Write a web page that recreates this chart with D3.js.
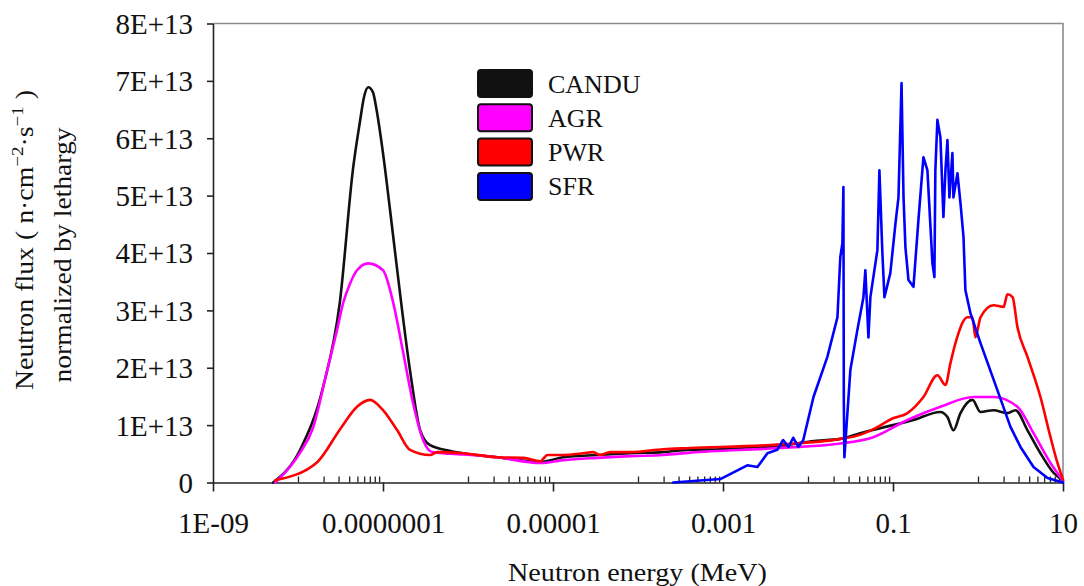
<!DOCTYPE html>
<html>
<head>
<meta charset="utf-8">
<script src="https://cdn.jsdelivr.net/npm/d3@7/dist/d3.min.js"></script>
<style>
  body { margin: 0; background: #fff; }
  text { font-family: "Liberation Serif", "Times New Roman", serif; fill: #111; }
</style>
</head>
<body>
<div id="vis"></div>
<script>
// series names and their line colours
var seriesNames = ["CANDU", "AGR", "PWR", "SFR"];
var seriesColors = ["#111111", "#ff00ff", "#ff0000", "#0000ff"];

// tick labels
var yTickLabels = ["0", "1E+13", "2E+13", "3E+13", "4E+13", "5E+13", "6E+13", "7E+13", "8E+13"];
var xTickValues = [1e-9, 1e-7, 1e-5, 1e-3, 1e-1, 10];
var xTickLabels = ["1E-09", "0.0000001", "0.00001", "0.001", "0.1", "10"];

// [energy MeV, flux in units of 1E+13]
var candu = [
  [5.1e-9, 0], [1.06e-8, 0.57], [1.97e-8, 1.66], [3.1e-8, 3.13], [4.45e-8, 5.48],
  [5.37e-8, 6.3], [5.98e-8, 6.72], [6.7e-8, 6.89], [7.63e-8, 6.80], [8.3e-8, 6.54],
  [1.0e-7, 5.74], [1.21e-7, 4.75], [1.47e-7, 3.70], [2.08e-7, 1.95], [2.74e-7, 0.91],
  [3.58e-7, 0.65], [6.2e-7, 0.55], [8.8e-7, 0.51], [2.2e-6, 0.44], [7.1e-6, 0.36],
  [1.32e-5, 0.44], [3.3e-5, 0.48], [8.1e-5, 0.51], [1.98e-4, 0.53], [4.1e-4, 0.57],
  [9.3e-4, 0.58], [4.35e-3, 0.63], [1.1e-2, 0.72], [2.4e-2, 0.76], [4.1e-2, 0.86],
  [0.1, 1.0], [0.174, 1.09], [0.361, 1.23], [0.437, 1.14], [0.514, 0.91],
  [0.622, 1.21], [0.861, 1.44], [1.07, 1.23], [1.52, 1.26], [2.22, 1.21],
  [2.76, 1.26], [3.82, 0.91], [5.43, 0.51], [7.73, 0.17], [10, 0.03]
];

var agr = [
  [5.4e-9, 0], [1.06e-8, 0.52], [1.5e-8, 0.95], [2.2e-8, 1.95], [2.88e-8, 2.66],
  [3.4e-8, 3.13], [4.1e-8, 3.47], [4.95e-8, 3.70], [6.7e-8, 3.82], [1.0e-7, 3.70],
  [1.32e-7, 3.13], [1.73e-7, 2.26], [2.26e-7, 1.38], [2.96e-7, 0.74], [3.78e-7, 0.53],
  [6.2e-7, 0.50], [8.8e-7, 0.49], [2.2e-6, 0.44], [7.1e-6, 0.34], [1.32e-5, 0.39],
  [3.3e-5, 0.43], [8.1e-5, 0.46], [1.98e-4, 0.48], [4.1e-4, 0.52], [4.35e-3, 0.60],
  [2.4e-2, 0.68], [5.87e-2, 0.79], [0.148, 1.09], [0.361, 1.32], [0.883, 1.49],
  [1.52, 1.49], [2.91, 1.32], [4.5, 0.86], [7.13, 0.34], [10, 0.03]
];

var pwr = [
  [5.4e-9, 0.04], [1.67e-8, 0.35], [3.1e-8, 0.92], [4.95e-8, 1.32], [7.05e-8, 1.44],
  [1.0e-7, 1.26], [1.47e-7, 0.91], [2.08e-7, 0.57], [3.58e-7, 0.48], [4.34e-7, 0.53],
  [8.8e-7, 0.51], [2.2e-6, 0.44], [4.5e-6, 0.43], [7.1e-6, 0.37], [8.6e-6, 0.48],
  [1.32e-5, 0.48], [2.27e-5, 0.51], [2.97e-5, 0.53], [3.6e-5, 0.48], [4.7e-5, 0.53],
  [8.1e-5, 0.53], [1.98e-4, 0.58], [4.1e-4, 0.60], [4.35e-3, 0.66], [2.4e-2, 0.76],
  [4.1e-2, 0.83], [5.87e-2, 0.93], [0.1, 1.12], [0.148, 1.21], [0.228, 1.49],
  [0.333, 1.87], [0.414, 1.70], [0.474, 2.08], [0.543, 2.43], [0.752, 2.88],
  [0.861, 2.88], [0.933, 2.53], [1.07, 2.88], [1.52, 3.09], [2.0, 3.06],
  [2.22, 3.28], [2.55, 3.23], [2.91, 2.71], [3.82, 2.19], [5.43, 1.49],
  [7.13, 0.79], [8.61, 0.34], [10, 0.05]
];

var sfr = [
  [2.6e-4, 0], [9.3e-4, 0.06], [1.93e-3, 0.30], [2.54e-3, 0.27], [3.33e-3, 0.51],
  [4.35e-3, 0.57], [5.1e-3, 0.74], [5.9e-3, 0.62], [6.7e-3, 0.78], [7.7e-3, 0.62],
  [8.8e-3, 0.74], [1.16e-2, 1.49], [1.69e-2, 2.19], [2.22e-2, 2.88], [2.4e-2, 3.93],
  [2.54e-2, 4.17], [2.61e-2, 5.15], [2.64e-2, 1.39], [2.68e-2, 0.44], [3.15e-2, 1.96],
  [3.81e-2, 2.66], [4.49e-2, 3.23], [4.73e-2, 3.70], [5.14e-2, 2.53], [5.42e-2, 3.23],
  [6.55e-2, 4.05], [6.92e-2, 5.44], [7.5e-2, 4.00], [7.93e-2, 3.23], [9.3e-2, 3.65],
  [0.107, 4.52], [0.116, 4.97], [0.126, 6.96], [0.133, 4.97], [0.14, 4.10],
  [0.152, 3.53], [0.174, 3.41], [0.199, 4.57], [0.228, 5.67], [0.254, 5.44],
  [0.291, 3.82], [0.307, 3.58], [0.315, 5.44], [0.333, 6.32], [0.361, 6.02],
  [0.392, 4.63], [0.414, 5.44], [0.437, 5.97], [0.461, 4.97], [0.5, 5.74],
  [0.514, 4.97], [0.573, 5.39], [0.622, 4.87], [0.675, 4.28], [0.711, 3.35],
  [0.815, 2.95], [1.07, 2.43], [1.69, 1.61], [2.41, 0.97], [3.16, 0.62],
  [4.5, 0.27], [6.58, 0.08], [10, 0]
];

var allSeries = [candu, agr, pwr, sfr];

var width = 1084, height = 586;
var margin = { top: 23.5, left: 213, bottom: 103.5, right: 21 };

var svg = d3.select("#vis").append("svg")
  .attr("width", width)
  .attr("height", height);

var x = d3.scaleLog().domain([1e-9, 10]).range([margin.left, width - margin.right]);
var y = d3.scaleLinear().domain([0, 8]).range([height - margin.bottom, margin.top]);

// grey frame on top and right
svg.append("path")
  .attr("d", "M" + x(1e-9) + "," + y(8) + "H" + x(10) + "V" + y(0))
  .attr("fill", "none")
  .attr("stroke", "#8c8c8c")
  .attr("stroke-width", 1.6);

// minor ticks (only every other decade, like the original)
var minorTicks = [];
[-8, -6, -4, -2, 0].forEach(function (k) {
  for (var m = 1; m <= 9; m++) minorTicks.push(m * Math.pow(10, k));
});

svg.append("g")
  .attr("transform", "translate(0," + y(0) + ")")
  .call(d3.axisTop(x).tickValues(minorTicks).tickSize(6).tickSizeOuter(0).tickFormat(""))
  .call(function (g) { g.select(".domain").remove(); })
  .selectAll("line").attr("stroke", "#222").attr("stroke-width", 1.3);

var xAxis = svg.append("g")
  .attr("transform", "translate(0," + y(0) + ")")
  .call(d3.axisBottom(x).tickValues(xTickValues)
    .tickFormat(function (d, i) { return xTickLabels[i]; })
    .tickSize(9).tickSizeOuter(0));
xAxis.select(".domain").attr("stroke", "#222").attr("stroke-width", 1.6);
xAxis.selectAll("line").attr("stroke", "#222").attr("stroke-width", 1.6);
xAxis.selectAll("text")
  .attr("y", 50).attr("dy", 0)
  .style("font-size", "29px")
  .style("font-family", "Liberation Serif")
  .attr("fill", "#111");

var yAxis = svg.append("g")
  .attr("transform", "translate(" + x(1e-9) + ",0)")
  .call(d3.axisLeft(y).tickValues(d3.range(0, 9))
    .tickFormat(function (d, i) { return yTickLabels[i]; })
    .tickSize(6).tickPadding(14).tickSizeOuter(0));
yAxis.select(".domain").attr("stroke", "#222").attr("stroke-width", 1.6);
yAxis.selectAll("line").attr("stroke", "#222").attr("stroke-width", 1.6);
yAxis.selectAll("text")
  .attr("dy", "0.34em")
  .style("font-size", "29px")
  .style("font-family", "Liberation Serif")
  .attr("fill", "#111");

// lines
var line = d3.line()
  .x(function (d) { return x(d[0]); })
  .y(function (d) { return y(d[1]); });

allSeries.forEach(function (s, i) {
  svg.append("path")
    .datum(s)
    .attr("fill", "none")
    .attr("stroke", seriesColors[i])
    .attr("stroke-width", 2.6)
    .attr("stroke-linejoin", "round")
    .attr("stroke-linecap", "round")
    .attr("d", line.curve(i === 3 ? d3.curveLinear : d3.curveMonotoneX));
});

// legend
var legend = svg.append("g").attr("transform", "translate(478,70)");
seriesNames.forEach(function (name, i) {
  var row = legend.append("g").attr("transform", "translate(0," + (i * 34.3) + ")");
  row.append("rect")
    .attr("width", 54).attr("height", 27).attr("rx", 3)
    .attr("fill", seriesColors[i])
    .attr("stroke", "#111").attr("stroke-width", 2);
  row.append("text")
    .attr("x", 70).attr("y", 22.5)
    .style("font-size", "26px")
    .text(name);
});

// axis titles
svg.append("text")
  .attr("x", 637.5).attr("y", 581)
  .attr("text-anchor", "middle")
  .attr("textLength", 259).attr("lengthAdjust", "spacingAndGlyphs")
  .style("font-size", "25px")
  .text("Neutron energy (MeV)");

var yt1 = svg.append("text")
  .attr("transform", "translate(33,240) rotate(-90)")
  .attr("text-anchor", "middle")
  .attr("textLength", 300).attr("lengthAdjust", "spacingAndGlyphs")
  .style("font-size", "25px");
yt1.append("tspan").text("Neutron flux ( n\u00b7cm");
yt1.append("tspan").attr("dy", -10).style("font-size", "17px").text("\u22122");
yt1.append("tspan").attr("dy", 10).text("\u00b7s");
yt1.append("tspan").attr("dy", -10).style("font-size", "17px").text("\u22121");
yt1.append("tspan").attr("dy", 10).text(" )");

svg.append("text")
  .attr("transform", "translate(71,255) rotate(-90)")
  .attr("text-anchor", "middle")
  .attr("textLength", 255).attr("lengthAdjust", "spacingAndGlyphs")
  .style("font-size", "25px")
  .text("normalized by lethargy");
</script>
</body>
</html>
